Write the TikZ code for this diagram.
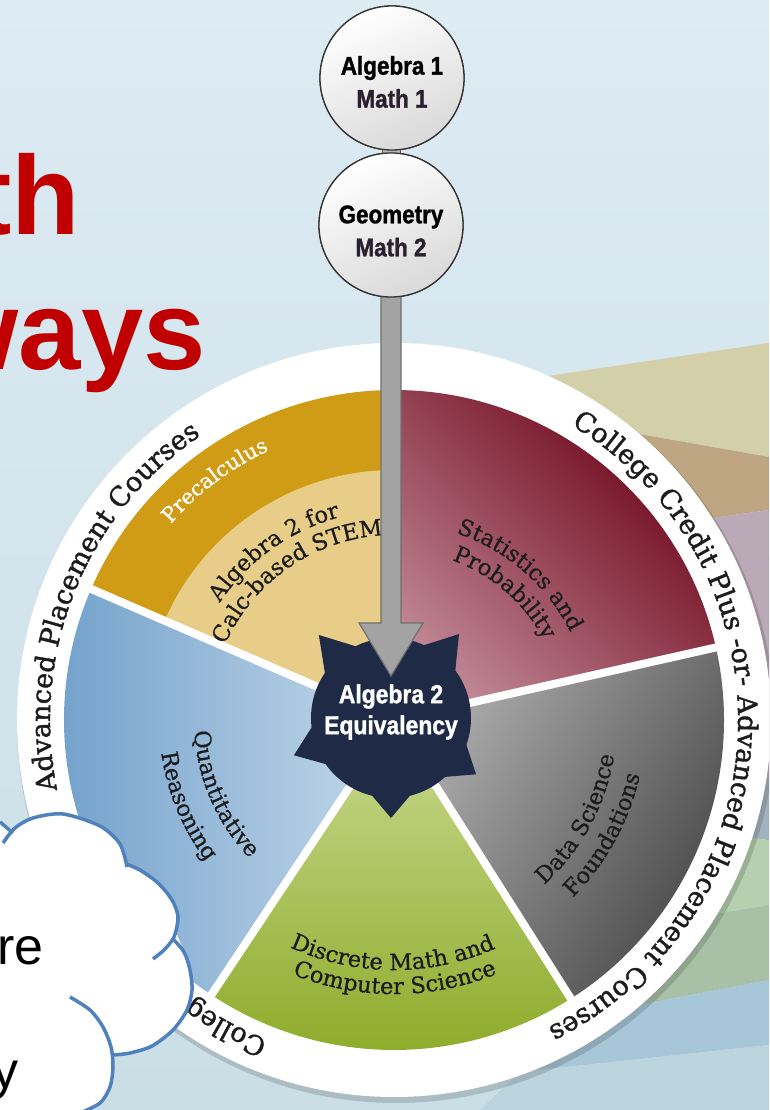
\documentclass[tikz,border=0pt]{standalone}
\usepackage{fontspec}
\setmainfont{Liberation Sans}
\newfontfamily\slab[FakeBold=0.7]{DejaVu Serif}
\newfontfamily\slabring[FakeBold=1.4]{DejaVu Serif}
\newfontfamily\cond[FakeStretch=0.88,BoldFeatures={FakeBold=1.3}]{Liberation Sans}
\usetikzlibrary{decorations.text}

\definecolor{bgtop}{HTML}{DDEBF3}
\definecolor{bgbot}{HTML}{CADEE6}
\definecolor{bandbeige}{HTML}{D3CFA9}
\definecolor{bandtan}{HTML}{BEA682}
\definecolor{bandmauve}{HTML}{BAAAB7}
\definecolor{bandslate}{HTML}{A2B3BE}
\definecolor{bandlgreen}{HTML}{B6CFAF}
\definecolor{bandsage}{HTML}{A8C1A6}
\definecolor{bandblue}{HTML}{A7C6D8}
\definecolor{bandlblue}{HTML}{BCD4DE}
\definecolor{golddk}{HTML}{D09B15}
\definecolor{goldlt}{HTML}{E8CD88}
\definecolor{reddk}{HTML}{6A0015}
\definecolor{redlt}{HTML}{C08795}
\definecolor{graydk}{HTML}{444444}
\definecolor{graylt}{HTML}{B0B0B0}
\definecolor{greenlt}{HTML}{CAD991}
\definecolor{greendk}{HTML}{8BAA26}
\definecolor{bluedk}{HTML}{6C9DC9}
\definecolor{bluelt}{HTML}{C4D8EA}
\definecolor{starc}{HTML}{1F2A47}
\definecolor{arrowc}{HTML}{A3A3A3}
\definecolor{arrowd}{HTML}{6F6F6F}
\definecolor{titlered}{HTML}{C00000}
\definecolor{cloudblue}{HTML}{4F81BD}
\definecolor{inktxt}{HTML}{1C1C1C}
\definecolor{mathtxt}{HTML}{2B2030}

\newcommand\ringf{\slabring\fontsize{27}{27}\selectfont}
\newcommand\innf{\slab\fontsize{22.5}{22.5}\selectfont}
\newcommand\pref{\slab\fontsize{21}{21}\selectfont}

% text set along an arc round the wheel centre C, centred on angle #4
\newcommand\cwtext[5]{\path[decorate,decoration={text along path,text align=center,text color=#1,text={|#2|#5}}]
  ([shift={(#4+70:#3)}]C) arc[start angle=#4+70,end angle=#4-70,radius=#3];}
\newcommand\ccwtext[5]{\path[decorate,decoration={text along path,text align=center,text color=#1,text={|#2|#5}}]
  ([shift={(#4-70:#3)}]C) arc[start angle=#4-70,end angle=#4+70,radius=#3];}

\begin{document}
\begin{tikzpicture}[x=1pt,y=1pt,
  bubble/.style={circle,minimum size=144,inner sep=0,draw=black!80,line width=1.3,
    top color=white,bottom color=black!15,shading angle=25},
  bubtext/.style={inner sep=0,align=center,font=\cond\bfseries\fontsize{25.5}{33}\selectfont,text=black},
  startext/.style={inner sep=0,align=center,font=\cond\bfseries\fontsize{26}{31}\selectfont,text=white},
  titletxt/.style={inner sep=0,font=\bfseries\fontsize{112}{112}\selectfont,text=titlered},
  cloudtxt/.style={inner sep=0,font=\fontsize{52}{52}\selectfont,text=black},
  cloudline/.style={draw=cloudblue,line width=3.5},
  sep/.style={white,line width=8}]

\useasboundingbox (0,0) rectangle (769,1110);
\clip (0,0) rectangle (769,1110);

% backdrop and coloured rays behind the wheel
\shade[top color=bgtop,bottom color=bgbot] (0,0) rectangle (769,1110);
\fill[bandbeige] (420,715) -- (769,767) -- (769,653) -- cycle;
\fill[bandtan] (560,690) -- (769,653) -- (769,600) -- (560,570) -- cycle;
\fill[bandmauve] (560,570) -- (769,600) -- (769,330) -- (600,350) -- cycle;
\fill[bandslate] (600,350) -- (769,330) -- (769,270) -- (600,290) -- cycle;
\fill[bandlgreen] (600,290) -- (769,270) -- (769,205) -- (560,170) -- cycle;
\fill[bandsage] (560,170) -- (769,205) -- (769,130) -- (560,90) -- cycle;
\fill[bandblue] (560,90) -- (769,130) -- (769,65) -- (520,38) -- cycle;
\fill[bandlblue] (520,38) -- (769,65) -- (769,0) -- (480,0) -- cycle;

% wheel
\coordinate (C) at (394,390);
\fill[black,opacity=0.15] ([shift={(2,-4)}]C) circle[radius=379];
\fill[white] (C) circle[radius=377];

\fill[golddk] (C) -- ([shift={(90:330)}]C) arc[start angle=90,end angle=156.6,radius=330] -- cycle;
\fill[goldlt] (C) -- ([shift={(90:250)}]C) arc[start angle=90,end angle=156.6,radius=250] -- cycle;
\shade[top color=reddk,bottom color=redlt,shading angle=-45]
  (C) -- ([shift={(12.7:330)}]C) arc[start angle=12.7,end angle=90,radius=330] -- cycle;
\shade[top color=graydk,bottom color=graylt,shading angle=-120]
  (C) -- ([shift={(-57.6:330)}]C) arc[start angle=-57.6,end angle=12.7,radius=330] -- cycle;
\shade[top color=greenlt,bottom color=greendk]
  (C) -- ([shift={(-123.6:330)}]C) arc[start angle=-123.6,end angle=-57.6,radius=330] -- cycle;
\shade[top color=bluedk,bottom color=bluelt,shading angle=90]
  (C) -- ([shift={(156.6:330)}]C) arc[start angle=156.6,end angle=236.4,radius=330] -- cycle;

\foreach \a in {90,12.7,-57.6,236.4,156.6}
  \draw[sep] (C) -- ([shift={(\a:332)}]C);

% lettering on the white rim
\path[decorate,decoration={text along path,text color=inktxt,text={|\ringf|Advanced Placement Courses}}]
  ([shift={(191.7:344)}]C) arc[start angle=191.7,end angle=100,radius=344];
\path[decorate,decoration={text along path,text color=inktxt,text={|\ringf|College Credit Plus -or- Advanced Placement Courses}}]
  ([shift={(59:344)}]C) arc[start angle=59,end angle=-85,radius=344];
\path[decorate,decoration={text along path,text color=inktxt,text={|\ringf|Colleg}}]
  ([shift={(248.5:344)}]C) arc[start angle=248.5,end angle=220,radius=344];

% course names in the sectors
\cwtext{white}{\pref}{297}{126.8}{Precalculus}
\cwtext{inktxt}{\innf}{210}{125.5}{Algebra 2 for}
\cwtext{inktxt}{\innf}{185}{124.7}{Calc-based STEM}
\cwtext{inktxt}{\innf}{197}{49}{Statistics and}
\cwtext{inktxt}{\innf}{170}{49}{Probability}
\ccwtext{inktxt}{\innf}{223}{-28.4}{Data Science}
\ccwtext{inktxt}{\innf}{252}{-28.7}{Foundations}
\ccwtext{inktxt}{\innf}{250}{-90.3}{Discrete Math and}
\ccwtext{inktxt}{\innf}{274}{-89.8}{Computer Science}
\ccwtext{inktxt}{\innf}{200}{203.5}{Quantitative}
\ccwtext{inktxt}{\innf}{235}{202.6}{Reasoning}

% hub seal
\node[circle,fill=starc,minimum size=160,inner sep=0] (star) at (391,392) {};
\foreach \a/\r in {131/110,51/108,-33.5/102,-90/100,201/104,90/100}
  \fill[starc] ([shift={(\a-18:76)}]star.center) -- ([shift={(\a:\r)}]star.center)
    -- ([shift={(\a+18:76)}]star.center) -- cycle;
\node[startext] (startxt) at ([yshift=6]star.center) {Algebra 2\\Equivalency};

% course circles and the arrow into the hub
\node[bubble] (alg) at (392,1032) {};
\node[bubble] (geo) at (391,885) {};
\filldraw[fill=arrowc,draw=arrowd,line width=1.2]
  ([xshift=-10]geo.center) -- ([xshift=-10,yshift=95]star.center)
  -- ([xshift=-32,yshift=95]star.center) -- ([yshift=42]star.center)
  -- ([xshift=32,yshift=95]star.center) -- ([xshift=10,yshift=95]star.center)
  -- ([xshift=10]geo.center) -- cycle;
\filldraw[fill=black!28,draw=black!65,line width=1]
  ([xshift=-9.5,yshift=6]alg.south) rectangle ([xshift=9.5,yshift=-6]geo.north);
\node[bubble] (alg2) at (alg.center) {};
\node[bubble] (geo2) at (geo.center) {};
\node[bubtext] (algt) at ([yshift=-4]alg.center) {Algebra 1\\\textcolor{mathtxt}{Math 1}};
\node[bubtext] (geot) at ([yshift=-6]geo.center) {Geometry\\\textcolor{mathtxt}{Math 2}};

% heading
\node[titletxt,anchor=base east] (tth) at (80,875) {th};
\node[titletxt,anchor=base east] (tways) at (206,740) {ways};

% cloud callout
\fill[white] (-5,292) -- (0,288) -- (13,280) -- (33,291) -- (48,295) -- (63,296) -- (82,292)
  -- (100,284) -- (114,274) -- (123,262) -- (127,244) -- (140,238) -- (158,226) -- (172,210)
  -- (178,193) -- (176,178) -- (184,158) -- (190,140) -- (192,120) -- (187,100) -- (173,80)
  -- (152,64) -- (130,57) -- (113,53) -- (113,43) -- (110,23) -- (100,7) -- (80,-2)
  -- (-5,-5) -- cycle;
\draw[cloudline] (0,288) -- (13,277);
\draw[cloudline] plot[smooth] coordinates {(3,267) (15,282) (33,292) (63,296) (100,284) (120,266) (127,243)};
\draw[cloudline] plot[smooth] coordinates {(126,246) (140,240) (158,227) (172,210) (178,193) (174,173) (164,160) (153,151)};
\draw[cloudline] plot[smooth] coordinates {(172,172) (184,158) (190,140) (192,120) (187,100) (173,80) (152,64) (130,57) (113,55)};
\draw[cloudline] plot[smooth] coordinates {(70,113) (90,100) (103,83) (111,63) (113,43) (110,23) (100,7) (80,-3)};
\node[cloudtxt,anchor=base east] (cre) at (44,145) {re};
\node[cloudtxt,anchor=base east] (cy) at (19,21) {y};
\end{tikzpicture}
\end{document}
